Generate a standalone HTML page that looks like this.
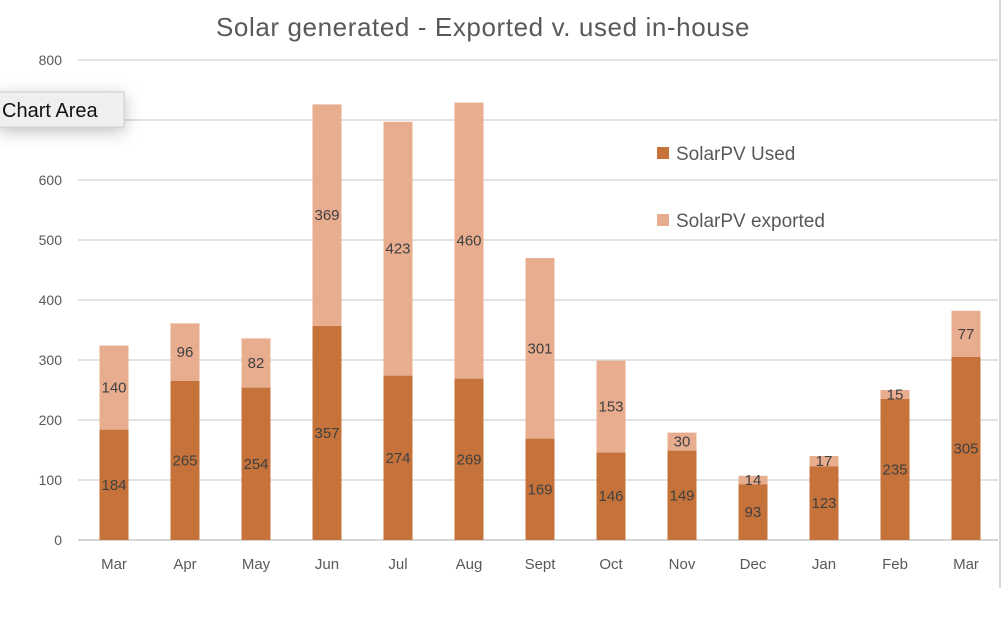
<!DOCTYPE html>
<html><head><meta charset="utf-8"><style>
body{margin:0;background:#fff;width:1004px;height:630px;overflow:hidden;font-family:"Liberation Sans",sans-serif}
svg text{font-family:"Liberation Sans",sans-serif}
</style></head><body>
<svg id="c" width="1004" height="630">
<line x1="1000" y1="0" x2="1000" y2="588" stroke="#ccc" stroke-width="1.5"/>
<text x="483" y="36" text-anchor="middle" font-size="26" letter-spacing="0.6" fill="#595959">Solar generated - Exported v. used in-house</text>
<g id="grid"></g><g id="bars"></g>
<g>
<rect x="657" y="147" width="12" height="12" fill="#C5733A"/>
<text x="676" y="160" font-size="19" fill="#595959">SolarPV Used</text>
<rect x="657" y="214" width="12" height="12" fill="#E8AD8F"/>
<text x="676" y="227" font-size="19" fill="#595959">SolarPV exported</text>
</g>
<defs><filter id="sh" x="-30%" y="-50%" width="160%" height="250%"><feDropShadow dx="0" dy="4" stdDeviation="8" flood-color="#000" flood-opacity="0.25"/></filter></defs>
<g>
<rect x="-2" y="92" width="126" height="35" fill="#efefef" stroke="#cfcfcf" filter="url(#sh)"/>
<text x="2" y="117" font-size="20" fill="#111">Chart Area</text>
</g>
</svg>
<script>
const categories=["Mar","Apr","May","Jun","Jul","Aug","Sept","Oct","Nov","Dec","Jan","Feb","Mar"];
const usedValues=[184,265,254,357,274,269,169,146,149,93,123,235,305];
const exportedValues=[140,96,82,369,423,460,301,153,30,14,17,15,77];
const yTicks=[0,100,200,300,400,500,600,700,800];
const yLabels=["0","100","200","300","400","500","600","","800"];
const NS="http://www.w3.org/2000/svg";
function y(v){return 540-v*0.6;}
function x(i){return 114+i*71;}
function mk(t,a,p){const e=document.createElementNS(NS,t);for(const k in a)e.setAttribute(k,a[k]);p.appendChild(e);return e;}
const grid=document.getElementById('grid'),bars=document.getElementById('bars');
yTicks.forEach((t,i)=>{
 const l=mk('line',{x1:78,x2:998,y1:y(t),y2:y(t),stroke:t===0?'#c8c8c8':'#d9d9d9','stroke-width':1.5},grid);
 
 
 const tx=mk('text',{x:62,y:y(t)+5,'text-anchor':'end','font-size':14,fill:'#595959'},grid);
 tx.textContent=yLabels[i];
 
 
});
categories.forEach((c,i)=>{
 const u=usedValues[i],e=exportedValues[i],cx=x(i);
 const r1=mk('rect',{x:cx-14.5,y:y(u),width:29,height:y(0)-y(u),fill:'#C5733A'},bars);
 
 
 const r2=mk('rect',{x:cx-14.5,y:y(u+e),width:29,height:y(u)-y(u+e),fill:'#E8AD8F'},bars);
 
 
 const t1=mk('text',{x:cx,y:(y(0)+y(u))/2+5,'text-anchor':'middle','font-size':15,fill:'#404040'},bars);
 t1.textContent=u;
 
 
 const t2=mk('text',{x:cx,y:(y(u)+y(u+e))/2+5,'text-anchor':'middle','font-size':15,fill:'#404040'},bars);
 t2.textContent=e;
 
 
 const xl=mk('text',{x:cx,y:569,'text-anchor':'middle','font-size':15,fill:'#595959'},bars);
 xl.textContent=c;
 
 
});
</script>
</body></html>
